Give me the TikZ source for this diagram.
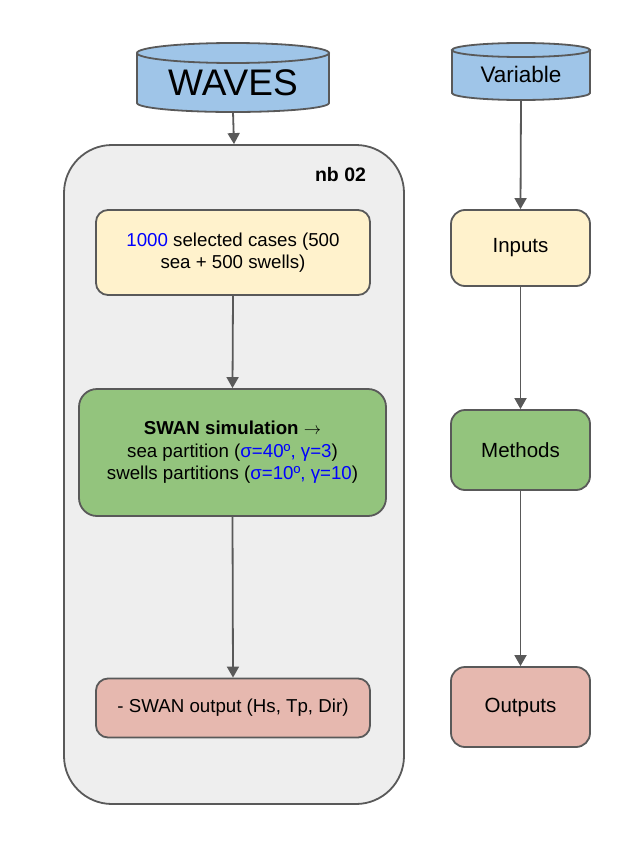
\documentclass[tikz,border=0pt]{standalone}
\usepackage{fontspec}
\setmainfont{Liberation Sans}
\usetikzlibrary{arrows.meta}
\definecolor{cblue}{HTML}{9FC5E8}
\definecolor{cyellow}{HTML}{FFF2CC}
\definecolor{cgreen}{HTML}{93C47D}
\definecolor{cred}{HTML}{E6B8AF}
\definecolor{cgrey}{HTML}{EEEEEE}
\definecolor{cstroke}{HTML}{595959}
\definecolor{ctext}{HTML}{0000FF}
\begin{document}
\begin{tikzpicture}[x=1pt,y=-1pt,
  box/.style={draw=cstroke, line width=1.8pt, rounded corners=12pt, align=center,
    font=\fontsize{18.7}{22.5}\selectfont, inner sep=0pt},
  rbox/.style={box, rounded corners=14pt, minimum width=139pt, font=\fontsize{20.5}{24}\selectfont},
  arr/.style={draw=cstroke, line width=1.8pt, -{Triangle[width=12pt,length=11pt]}},
  cyl/.style={fill=cblue, draw=cstroke, line width=1.8pt}]
\useasboundingbox (0,0) rectangle (635,843);

% container
\node[draw=cstroke, line width=1.8pt, fill=cgrey, rounded corners=48pt,
  minimum width=340pt, minimum height=659pt, inner sep=0pt] (nb) at (234,474.5) {};
\node[font=\fontsize{19.5}{22}\selectfont\bfseries] (nblabel) at (340.5,174.5) {nb 02};

% WAVES cylinder
\path[cyl] (137,53) -- (137,103) arc[start angle=180,end angle=360,x radius=96pt,y radius=9pt] -- (329,53);
\path[cyl] (233,53) ellipse[x radius=96pt,y radius=10pt];
\node[font=\fontsize{37}{40}\selectfont, inner sep=0pt] (waves) at (233,82.7) {WAVES};
\coordinate (wavesb) at (233,112);

% Variable cylinder
\path[cyl] (452,50) -- (452,93) arc[start angle=180,end angle=360,x radius=69pt,y radius=7pt] -- (590,50);
\path[cyl] (521,50) ellipse[x radius=69pt,y radius=7pt];
\node[font=\fontsize{22.5}{24}\selectfont, inner sep=0pt] (var) at (521,74.5) {Variable};
\coordinate (varb) at (521,100);

% left column boxes
\node[box, fill=cyellow, minimum width=274pt, minimum height=85pt] (sel) at (233,252.5)
  {\textcolor{ctext}{1000} selected cases (500\\sea + 500 swells)};
\node[box, fill=cgreen, rounded corners=18pt, minimum width=307pt, minimum height=127pt] (swan) at (232.5,452.5)
  {\textbf{SWAN simulation} $\rightarrow$\\sea partition (\textcolor{ctext}{σ=40º, γ=3})\\swells partitions (\textcolor{ctext}{σ=10º, γ=10})};
\node[box, fill=cred, minimum width=274pt, minimum height=59pt] (out) at (233,708)
  {- SWAN output (Hs, Tp, Dir)};

% right column boxes
\node[rbox, fill=cyellow, minimum height=76pt] (inputs) at (520.5,248) {Inputs};
\node[rbox, fill=cgreen, minimum height=80pt] (methods) at (520.5,450) {Methods};
\node[rbox, fill=cred, minimum height=80pt] (outputs) at (520.5,707) {Outputs};

% arrows
\draw[arr] (wavesb) -- (nb.north);
\draw[arr] (sel.south) -- (swan.north);
\draw[arr] (swan.south) -- (out.north);
\draw[arr] (varb) -- (inputs.north);
\draw[arr] (inputs.south) -- (methods.north);
\draw[arr] (methods.south) -- (outputs.north);
\end{tikzpicture}
\end{document}
